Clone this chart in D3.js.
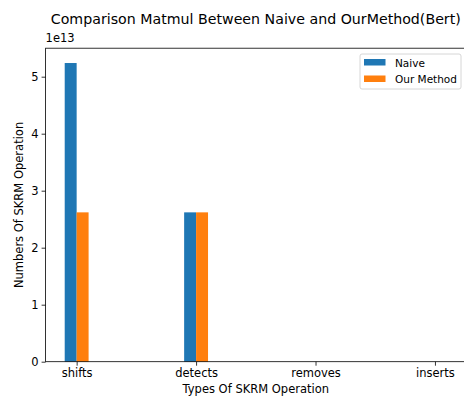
<!DOCTYPE html>
<html><head><meta charset="utf-8">
<script src="https://cdn.jsdelivr.net/npm/d3@7"></script>
<style>body{margin:0;background:#fff;}svg{display:block;font-family:"DejaVu Sans",sans-serif;}</style>
</head><body>
<svg id="c" width="464" height="396"></svg>
<script>
const categories = ["shifts", "detects", "removes", "inserts"];
const naive = [5.24, 2.62, 0, 0];      // x 1e13
const ourMethod = [2.62, 2.62, 0, 0];  // x 1e13
const yTicks = [0, 1, 2, 3, 4, 5];
const seriesNames = ["Naive", "Our Method"];
const colors = ["#1f77b4", "#ff7f0e"];

(function () {
const svg = d3.select("#c");
const pL = 45.6, pR = 466, pT = 48.2, pB = 361.7;
const barW = 0.1;
const x = d3.scaleLinear().domain([-0.26, 3.26]).range([pL, pR]);
const y = d3.scaleLinear().domain([0, 5.5]).range([pB, pT]);

const fs = 11.5;
const series = [naive, ourMethod];
series.forEach((vals, s) => {
  svg.append("g").selectAll("rect").data(vals).join("rect")
    .attr("x", (d, i) => x(i + (s === 0 ? -barW : 0)))
    .attr("width", x(barW) - x(0))
    .attr("y", d => y(d))
    .attr("height", d => y(0) - y(d))
    .attr("fill", colors[s]);
});

const xAxis = d3.axisBottom(x).tickValues(d3.range(categories.length)).tickFormat(i => categories[i]).tickSizeOuter(0).tickSize(4).tickPadding(3);
const gx = svg.append("g").attr("transform", `translate(0,${pB})`).call(xAxis);
const yAxis = d3.axisLeft(y).tickValues(yTicks).tickFormat(d3.format("d")).tickSizeOuter(0).tickSize(4).tickPadding(3);
const gy = svg.append("g").attr("transform", `translate(${pL},0)`).call(yAxis);
[gx, gy].forEach(g => {
  g.select(".domain").remove();
  g.selectAll("text").attr("font-size", fs).attr("fill", "#000").attr("font-family", "DejaVu Sans");
  g.selectAll("line").attr("stroke", "#000").attr("stroke-width", 0.8);
});
svg.append("rect").attr("x", pL).attr("y", pT).attr("width", pR - pL).attr("height", pB - pT)
  .attr("fill", "none").attr("stroke", "#000").attr("stroke-width", 0.8);

svg.append("text").attr("x", pL).attr("y", pT - 6).attr("font-size", fs).text("1e13");

svg.append("text").attr("x", (pL + pR) / 2).attr("y", 24).attr("text-anchor", "middle")
  .attr("font-size", 14.2).text("Comparison Matmul Between Naive and OurMethod(Bert)");
svg.append("text").attr("x", (pL + pR) / 2).attr("y", 393).attr("text-anchor", "middle")
  .attr("font-size", fs).text("Types Of SKRM Operation");
svg.append("text").attr("transform", `translate(23,${(pT + pB) / 2}) rotate(-90)`).attr("text-anchor", "middle")
  .attr("font-size", fs).text("Numbers Of SKRM Operation");

const lg = svg.append("g").attr("transform", "translate(360,54)");
lg.append("rect").attr("x", 0).attr("y", 0).attr("width", 101).attr("height", 35).attr("rx", 2)
  .attr("fill", "#fff").attr("fill-opacity", 0.8).attr("stroke", "#ccc").attr("stroke-width", 0.8);
seriesNames.forEach((n, i) => {
  lg.append("rect").attr("x", 4).attr("y", 5 + i * 16.5).attr("width", 21.5).attr("height", 6.5).attr("fill", colors[i]);
  lg.append("text").attr("x", 35).attr("y", 12.5 + i * 16).attr("font-size", 10.5).text(n);
});
})();
</script>
</body></html>
